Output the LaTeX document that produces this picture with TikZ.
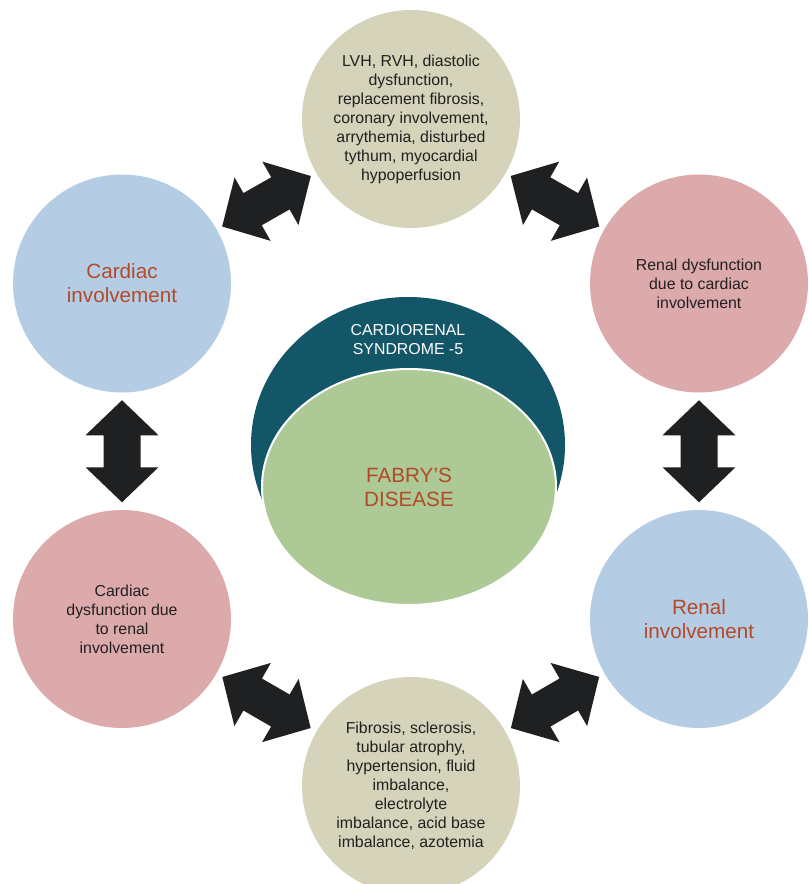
\documentclass[tikz,border=0pt]{standalone}
\usepackage{fontspec}
\setmainfont{Liberation Sans}
\usetikzlibrary{shapes.geometric}

\definecolor{tanfill}{HTML}{D5D3BA}
\definecolor{bluefill}{HTML}{B5CDE4}
\definecolor{pinkfill}{HTML}{DCAAAB}
\definecolor{tealfill}{HTML}{125668}
\definecolor{greenfill}{HTML}{ACC996}
\definecolor{rusttext}{HTML}{B24A2A}
\definecolor{darktext}{HTML}{231F20}
\definecolor{arrowfill}{HTML}{1F2022}

\begin{document}
\begin{tikzpicture}[x=0.75pt, y=-0.75pt,
  bubble/.style={circle, minimum size=163.5pt, inner sep=0pt, align=center},
  smalltext/.style={font=\fontsize{11.9}{14.25}\selectfont, text=darktext},
  bigtext/.style={font=\fontsize{15.5}{18}\selectfont, text=rusttext},
  dblarrow/.pic={
    \fill[arrowfill] (-51,0) -- (-16,36.5) -- (-16,18.5) -- (16,18.5) -- (16,36.5)
      -- (51,0) -- (16,-36.5) -- (16,-18.5) -- (-16,-18.5) -- (-16,-36.5) -- cycle;
  }
]
% page frame
\fill[white] (0,0) rectangle (808,884);
\useasboundingbox (0,0) rectangle (808,884);
\clip (0,0) rectangle (808,884);

% outer ring of six bubbles
\node[bubble, fill=tanfill, smalltext] (top) at (411,119)
  {LVH, RVH, diastolic\\dysfunction,\\replacement fibrosis,\\coronary involvement,\\arrythemia, disturbed\\tythum, myocardial\\hypoperfusion};
\node[bubble, fill=bluefill, bigtext] (cardiac) at (122,283.5)
  {Cardiac\\involvement};
\node[bubble, fill=pinkfill, smalltext] (renaldys) at (699,283.5)
  {Renal dysfunction\\due to cardiac\\involvement};
\node[bubble, fill=bluefill, bigtext] (renal) at (699,619)
  {Renal\\involvement};
\node[bubble, fill=pinkfill, smalltext] (cardiacdys) at (122,619)
  {Cardiac\\dysfunction due\\to renal\\involvement};
\node[bubble, fill=tanfill, smalltext] (bottom) at (411,786)
  {Fibrosis, sclerosis,\\tubular atrophy,\\hypertension, fluid\\imbalance,\\electrolyte\\imbalance, acid base\\imbalance, azotemia};

% central pair of ellipses
\node[ellipse, fill=tealfill, minimum width=235.5pt, minimum height=222pt, inner sep=0pt] (syndrome) at (408,445) {};
\node[ellipse, fill=greenfill, draw=white, line width=1.5pt, minimum width=220.5pt, minimum height=177pt, inner sep=0pt, align=center, bigtext] (fabry) at (409,487)
  {FABRY’S\\DISEASE};
\node[align=center, font=\fontsize{11.9}{14.25}\selectfont, text=white] (crslabel) at (408,340)
  {CARDIORENAL\\SYNDROME -5};

% two-headed block arrows between neighbouring bubbles
\path (cardiac.center) -- pic[sloped] {dblarrow} (top.center);
\path (top.center) -- pic[sloped] {dblarrow} (renaldys.center);
\path (renaldys.center) -- pic[sloped] {dblarrow} (renal.center);
\path (renal.center) -- pic[sloped] {dblarrow} (bottom.center);
\path (bottom.center) -- pic[sloped] {dblarrow} (cardiacdys.center);
\path (cardiacdys.center) -- pic[sloped] {dblarrow} (cardiac.center);
\end{tikzpicture}
\end{document}
